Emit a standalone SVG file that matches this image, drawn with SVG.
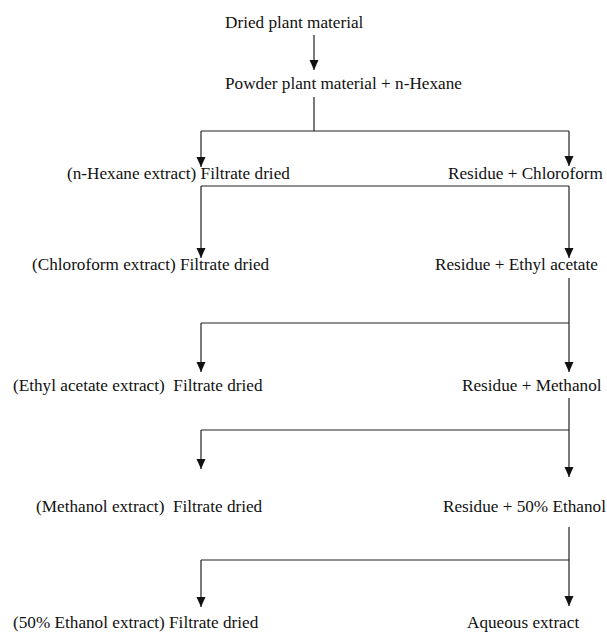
<svg xmlns="http://www.w3.org/2000/svg" width="607" height="634" viewBox="0 0 607 634">
<style>
text{font-family:"Liberation Serif","Times New Roman",serif;font-size:17.2px;fill:#111;}
.c{fill:none;stroke:#222;stroke-width:1.2;}
</style>
<defs>
<marker id="ah" markerUnits="userSpaceOnUse" markerWidth="10" markerHeight="10" refX="10" refY="4.5" orient="auto" viewBox="0 0 10 9">
<path d="M0,0 L10,4.5 L0,9 z" fill="#111"/>
</marker>
</defs>
<rect width="607" height="634" fill="#fff"/>
<g id="connectors">
<path class="c" d="M314,35 V70" marker-end="url(#ah)"/>
<path class="c" d="M314,97 V131 M201,131 H569"/>
<path class="c" d="M201,131 V167" marker-end="url(#ah)"/>
<path class="c" d="M569,131 V166" marker-end="url(#ah)"/>
<path class="c" d="M201,186 H569"/>
<path class="c" d="M201,186 V258" marker-end="url(#ah)"/>
<path class="c" d="M569,186 V258" marker-end="url(#ah)"/>
<path class="c" d="M569,278 V323 M201,323 H569"/>
<path class="c" d="M201,323 V372" marker-end="url(#ah)"/>
<path class="c" d="M569,323 V372" marker-end="url(#ah)"/>
<path class="c" d="M569,398 V430 M201,430 H569"/>
<path class="c" d="M201,430 V469" marker-end="url(#ah)"/>
<path class="c" d="M569,430 V477" marker-end="url(#ah)"/>
<path class="c" d="M569,527 V560 M201,560 H569"/>
<path class="c" d="M201,560 V607" marker-end="url(#ah)"/>
<path class="c" d="M569,560 V606" marker-end="url(#ah)"/>
</g>
<g id="dried"><text x="225" y="28">Dried plant material</text></g>
<g id="powder"><text x="225" y="89">Powder plant material + n-Hexane</text></g>
<g id="hexane-extract"><text x="67" y="179">(n-Hexane extract) Filtrate dried</text></g>
<g id="residue-chloroform"><text x="448" y="179">Residue + Chloroform</text></g>
<g id="chloroform-extract"><text x="32" y="270">(Chloroform extract) Filtrate dried</text></g>
<g id="residue-ethyl"><text x="435" y="270">Residue + Ethyl acetate</text></g>
<g id="ethyl-extract"><text x="13" y="391" xml:space="preserve">(Ethyl acetate extract)  Filtrate dried</text></g>
<g id="residue-methanol"><text x="462" y="391">Residue + Methanol</text></g>
<g id="methanol-extract"><text x="36" y="512" xml:space="preserve">(Methanol extract)  Filtrate dried</text></g>
<g id="residue-ethanol"><text x="443" y="512">Residue + 50% Ethanol</text></g>
<g id="ethanol-extract"><text x="13" y="628">(50% Ethanol extract) Filtrate dried</text></g>
<g id="aqueous"><text x="467" y="628">Aqueous extract</text></g>
</svg>
